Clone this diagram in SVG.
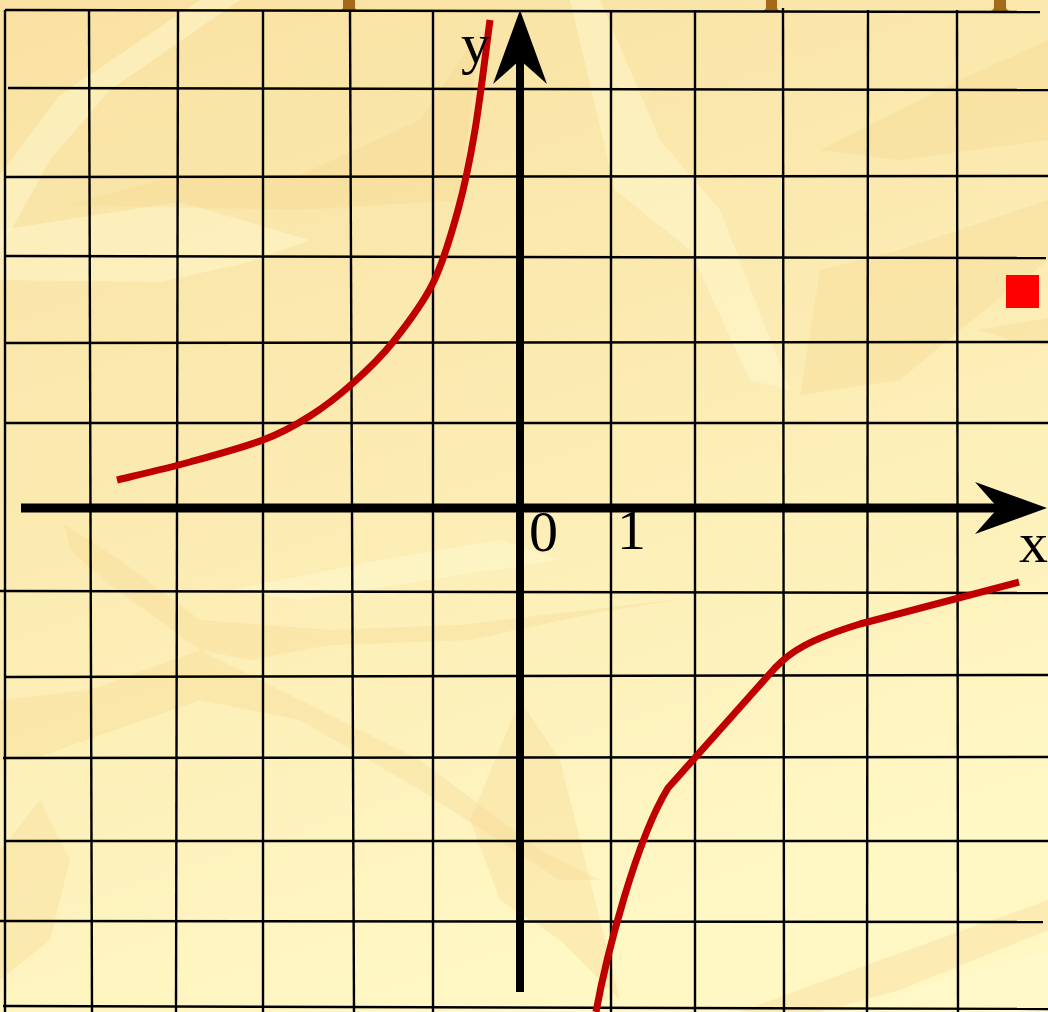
<svg xmlns="http://www.w3.org/2000/svg" width="1048" height="1012" viewBox="0 0 1048 1012">
<style>
.grid line{stroke:#000;stroke-width:2.4;}
.axis{fill:#000;}
.curve{fill:none;stroke:#c00000;stroke-width:7;stroke-linejoin:round;}
.lbl{font-family:"Liberation Serif","Times New Roman",serif;font-size:58px;fill:#000;}
.tab{fill:#a36a1a;}
.dk{fill:#f6d48c;opacity:0.3;}
.lt{fill:#fffbd2;opacity:0.45;}
</style>
<defs>
<linearGradient id="bg" x1="0" y1="0" x2="0.35" y2="1">
<stop offset="0" stop-color="#f9e1a2"/>
<stop offset="0.45" stop-color="#fbeab0"/>
<stop offset="1" stop-color="#fff7c4"/>
</linearGradient>
</defs>
<g id="background">
<rect x="0" y="0" width="1048" height="1012" fill="url(#bg)"/>
<polygon class="lt" points="0,175 60,95 200,0 240,0 110,90 50,160 0,250"/>
<polygon class="lt" points="0,230 180,202 310,240 250,262 160,282 0,280"/>
<polygon class="dk" points="66,205 160,180 300,175 420,120 480,30 460,200 300,210"/>
<polygon class="lt" points="570,0 600,0 660,140 720,210 790,390 750,380 690,250 615,190"/>
<polygon class="dk" points="820,150 960,80 1048,40 1048,140 900,160"/>
<polygon class="dk" points="980,330 1048,318 1048,345 1010,340"/>
<polygon class="dk" points="820,270 900,250 1048,200 1048,260 960,330 900,380 800,395"/>
<polygon class="dk" points="64,524 120,560 200,620 330,630 460,625 690,598 600,612 470,640 330,645 250,660 200,650 110,585 70,550"/>
<polygon class="dk" points="90,690 200,650 300,700 420,760 540,850 600,880 560,880 420,790 300,720 200,700 30,760 0,760 0,700"/>
<polygon class="lt" points="230,590 380,560 500,540 560,560 460,575 300,600"/>
<polygon class="dk" points="520,700 560,760 620,1000 560,940 500,900 470,820"/>
<polygon class="lt" points="850,1012 940,980 1048,950 1048,1012"/>
<polygon class="dk" points="0,850 40,800 70,860 50,940 0,980"/>
<polygon class="dk" points="740,1012 880,960 1048,900 1048,930 900,990 820,1012"/>
</g>
<g id="tabs">
<path class="tab" d="M343,0 L343,7 Q343,11 336,12 L362,12 Q355,11 355,7 L355,0 Z"/>
<path class="tab" d="M766,0 L766,7 Q766,11 759,12 L783,12 Q777,11 777,7 L777,0 Z"/>
<path class="tab" d="M994,0 L994,7 Q994,11 987,12 L1013,12 Q1006,11 1006,7 L1006,0 Z"/>
</g>
<g id="grid" class="grid">
<line x1="5" y1="10" x2="1040" y2="12"/>
<line x1="8" y1="88" x2="1048" y2="90"/>
<line x1="5" y1="177" x2="1048" y2="176"/>
<line x1="5" y1="256" x2="1046" y2="258"/>
<line x1="5" y1="343" x2="1048" y2="342"/>
<line x1="5" y1="423" x2="1048" y2="423"/>
<line x1="0" y1="591" x2="1048" y2="593"/>
<line x1="5" y1="677" x2="1048" y2="675"/>
<line x1="3" y1="758" x2="1048" y2="757"/>
<line x1="5" y1="841" x2="1048" y2="841"/>
<line x1="0" y1="921" x2="1043" y2="922"/>
<line x1="3" y1="1006" x2="1048" y2="1009"/>
<line x1="5" y1="10" x2="5" y2="1012"/>
<line x1="89" y1="10" x2="92" y2="1012"/>
<line x1="178" y1="10" x2="176" y2="1012"/>
<line x1="263" y1="10" x2="263" y2="1012"/>
<line x1="350" y1="10" x2="354" y2="1012"/>
<line x1="433" y1="10" x2="433" y2="1012"/>
<line x1="611" y1="10" x2="611" y2="1012"/>
<line x1="695" y1="10" x2="695" y2="1012"/>
<line x1="783" y1="8" x2="784" y2="1012"/>
<line x1="868" y1="10" x2="867" y2="1012"/>
<line x1="957" y1="10" x2="958" y2="1012"/>
</g>
<g id="curves">
<path class="curve" d="M117,480 C129.2,477 165.7,468.7 190,462 C214.3,455.3 243,447.5 263,440 C283,432.5 295,425.5 310,416 C325,406.5 339.2,395.3 353,383 C366.8,370.7 379.7,358.7 393,342 C406.3,325.3 422.2,305 433,283 C443.8,261 451,235.5 458,210 C465,184.5 469.7,161.7 475,130 C480.3,98.3 487.5,38.3 490,20"/>
<path class="curve" d="M596,1012 C606,957 636,840 668,788 L775,668 C790,652 808,640 860,624 L1019,582"/>
</g>
<g id="axes">
<rect class="axis" x="516" y="55" width="8" height="937"/>
<polygon class="axis" points="520,10 547,84 520,60 493,84"/>
<rect class="axis" x="21" y="503.5" width="980" height="9"/>
<polygon class="axis" points="1047,508 975,482 998,508 975,534"/>
</g>
<g id="labels">
<text class="lbl" x="461" y="63">y</text>
<text class="lbl" x="529" y="551">0</text>
<text class="lbl" x="617" y="549">1</text>
<text class="lbl" x="1019" y="562">x</text>
</g>
<rect id="marker-square" x="1006" y="275" width="33" height="33" fill="#ff0000"/>
</svg>
